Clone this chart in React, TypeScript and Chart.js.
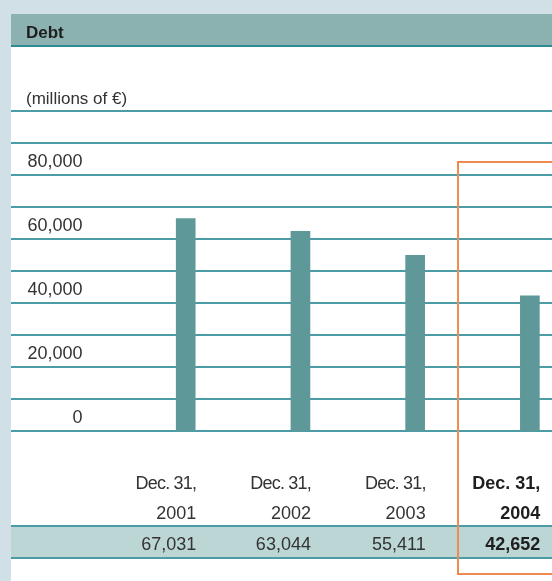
import React, { useEffect, useRef } from "react";
import { Chart, registerables } from "chart.js";

Chart.register(...registerables);

// ---- data ----
const categories = ["Dec. 31, 2001", "Dec. 31, 2002", "Dec. 31, 2003", "Dec. 31, 2004"];
const dateLines = ["Dec. 31,", "Dec. 31,", "Dec. 31,", "Dec. 31,"];
const yearLines = ["2001", "2002", "2003", "2004"];
const debt = [67031, 63044, 55411, 42652];
const yTickValues = [0, 20000, 40000, 60000, 80000];
const highlightIndex = 3;
const title = "Debt";
const unitLabel = "(millions of €)";

const W = 552;
const H = 581;
const FONT = "'Liberation Sans', Arial, Helvetica, sans-serif";

const fmt = (v: number) => v.toLocaleString("en-US");

const decorPlugin = {
  id: "decor",
  beforeDraw(chart: any) {
    const { ctx, chartArea } = chart;
    ctx.save();
    // outer light band
    ctx.fillStyle = "#d1dfe6";
    ctx.fillRect(0, 0, W, H);
    // white panel
    ctx.fillStyle = "#ffffff";
    ctx.fillRect(11, 14, W - 11, H - 14);
    // header band
    ctx.fillStyle = "#8bb2b1";
    ctx.fillRect(11, 14, W - 11, 31);
    ctx.fillStyle = "#2f8b95";
    ctx.fillRect(11, 45, W - 11, 2);
    // header text
    ctx.fillStyle = "#1e1e1e";
    ctx.font = `bold 17px ${FONT}`;
    ctx.textAlign = "left";
    ctx.textBaseline = "alphabetic";
    ctx.fillText(title, 26, 37.5);
    // unit text
    ctx.fillStyle = "#333333";
    ctx.font = `17px ${FONT}`;
    ctx.fillText(unitLabel, 26, 104);
    // table band
    ctx.fillStyle = "#bcd6d6";
    ctx.fillRect(chartArea.left, 527, chartArea.right - chartArea.left, 30);
    ctx.fillStyle = "#4b9ca7";
    ctx.fillRect(chartArea.left, 525, chartArea.right - chartArea.left, 2);
    ctx.fillRect(chartArea.left, 557, chartArea.right - chartArea.left, 2);
    ctx.restore();
  },
  afterDraw(chart: any) {
    const { ctx } = chart;
    const xs = chart.scales.x;
    const yg = chart.scales.yGrid;
    ctx.save();
    ctx.textBaseline = "alphabetic";
    // y labels
    ctx.fillStyle = "#333333";
    ctx.font = `18px ${FONT}`;
    ctx.textAlign = "right";
    yTickValues.forEach((v) => {
      ctx.fillText(fmt(v), 82.5, yg.getPixelForValue(v) - 8);
    });
    // x labels and value row
    categories.forEach((_, i) => {
      const right = xs.getPixelForValue(i) + 10.5;
      const bold = i === highlightIndex;
      ctx.fillStyle = bold ? "#1e1e1e" : "#333333";
      ctx.font = `${bold ? "bold " : ""}18px ${FONT}`;
      ctx.textAlign = "right";
      (ctx as any).letterSpacing = bold ? "0px" : "-0.8px";
      ctx.fillText(dateLines[i], right, 488.5);
      (ctx as any).letterSpacing = "0px";
      ctx.fillText(yearLines[i], right, 518.5);
      ctx.fillText(fmt(debt[i]), right, 549.5);
    });
    // highlight box
    const hx = xs.getPixelForValue(highlightIndex) - 71.5;
    ctx.strokeStyle = "#f08a4f";
    ctx.lineWidth = 2;
    ctx.strokeRect(Math.round(hx), 162, 200, 412);
    ctx.restore();
  },
};

export default function App() {
  const ref = useRef<HTMLCanvasElement | null>(null);

  useEffect(() => {
    if (!ref.current) return;
    const chart = new Chart(ref.current, {
      type: "bar",
      data: {
        labels: categories,
        datasets: [
          {
            label: title,
            data: debt.map((v, i) => ({ x: i, y: v })),
            backgroundColor: "#5f9898",
            borderWidth: 0,
            barThickness: 19,
            yAxisID: "y",
            xAxisID: "x",
          },
        ],
      },
      options: {
        responsive: false,
        animation: false,
        devicePixelRatio: 1,
        layout: { padding: { left: 11, right: 0, top: 111, bottom: H - 431 } },
        plugins: {
          legend: { display: false },
          tooltip: { enabled: false },
          title: { display: false },
        },
        scales: {
          x: {
            type: "linear",
            min: -1.523,
            max: 3.193,
            offset: false,
            bounds: "data",
            display: false,
          },
          y: {
            type: "linear",
            min: 0,
            max: 101000,
            display: false,
          },
          yGrid: {
            type: "linear",
            position: "left",
            min: 0,
            max: 100000,
            display: true,
            ticks: { display: false, stepSize: 10000 },
            grid: { color: "#4b9ca7", lineWidth: 2, drawTicks: false },
            border: { display: false },
            afterFit: (s: any) => {
              s.width = 0;
            },
          },
        },
      } as any,
      plugins: [decorPlugin],
    });
    return () => chart.destroy();
  }, []);

  return (
    <div style={{ position: "absolute", left: 0, top: 0, width: W, height: H, overflow: "hidden" }}>
      <canvas ref={ref} width={W} height={H} style={{ display: "block", width: W, height: H }} />
    </div>
  );
}
